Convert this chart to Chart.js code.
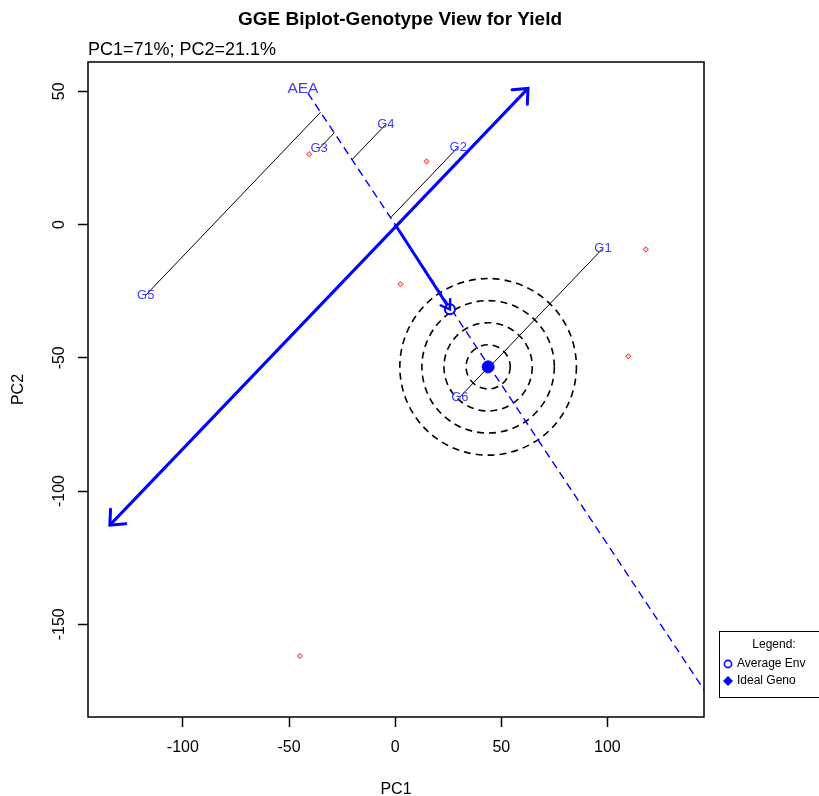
<!DOCTYPE html>
<html>
<head>
<meta charset="utf-8">
<script src="https://cdn.jsdelivr.net/npm/chart.js@4.4.1/dist/chart.umd.min.js"></script>
<style>
  html, body { margin: 0; padding: 0; background: #ffffff; }
  #wrap { width: 819px; height: 796px; position: relative; }
</style>
</head>
<body>
<div id="wrap"><canvas id="biplot" width="819" height="796"></canvas></div>
<script>
// ---- text ----
const titleText = 'GGE Biplot-Genotype View for Yield';
const subtitleText = 'PC1=71%; PC2=21.1%';
const xAxisTitle = 'PC1';
const yAxisTitle = 'PC2';
const aeaLabel = 'AEA';
const legendTitle = 'Legend:';
const legendItems = ['Average Env', 'Ideal Geno'];

// ---- genotype scores ----
const genotypeNames = ['G1', 'G2', 'G3', 'G4', 'G5', 'G6'];
const genotypePC1 = [97.9, 29.7, -35.8, -4.4, -117.5, 30.5];
const genotypePC2 = [-8.9, 29.1, 28.5, 37.6, -26.5, -64.7];

// ---- environment scores ----
const envPC1 = [-40.5, 14.8, 2.5, 118.1, 109.8, -44.9];
const envPC2 = [26.4, 23.7, -22.4, -9.3, -49.4, -161.9];

// ---- reference points and axes ----
const averageEnv = [25.8, -31.8];
const idealGeno = [43.8, -53.4];
const aeaAxis = [[-41.1, 49.3], [146.0, -175.2]];     // average environment axis
const atcAxis = [[-134.4, -112.8], [62.6, 51.1]];     // perpendicular axis through origin
const ringRadii = [10.4, 20.8, 31.2, 41.6];           // concentric rings, PC1 units

// ---- axes ----
const xTicks = [-100, -50, 0, 50, 100];
const yTicks = [50, 0, -50, -100, -150];
const xRange = [-144.7, 145.5];
const yRange = [-184.8, 61.0];

const FONT = "'Liberation Sans', Arial, sans-serif";
const BLUE = '#0000ff';
const LABEL_BLUE = '#3c3cff';

// projection of a genotype onto the AEA line
const aeaDir = (() => {
  const dx = aeaAxis[1][0] - aeaAxis[0][0];
  const dy = aeaAxis[1][1] - aeaAxis[0][1];
  const len = Math.hypot(dx, dy);
  return [dx / len, dy / len];
})();
function projectOnAea(x, y) {
  const t = x * aeaDir[0] + y * aeaDir[1];
  return { x: t * aeaDir[0], y: t * aeaDir[1] };
}

const projectionSets = genotypeNames.map((name, i) => ({
  label: 'proj ' + name,
  data: [{ x: genotypePC1[i], y: genotypePC2[i] }, projectOnAea(genotypePC1[i], genotypePC2[i])],
  showLine: true,
  borderColor: '#000000',
  borderWidth: 1,
  pointRadius: 0,
  order: 5
}));

const datasets = [
  {
    label: 'Ideal Geno',
    data: [{ x: idealGeno[0], y: idealGeno[1] }],
    pointStyle: 'circle',
    pointRadius: 6,
    backgroundColor: BLUE,
    borderColor: BLUE,
    borderWidth: 1,
    order: 0
  },
  {
    label: 'Average Env',
    data: [{ x: averageEnv[0], y: averageEnv[1] }],
    pointStyle: 'circle',
    pointRadius: 5,
    backgroundColor: '#ffffff',
    borderColor: BLUE,
    borderWidth: 2,
    order: 1
  },
  {
    label: 'Environments',
    data: envPC1.map((x, i) => ({ x, y: envPC2[i] })),
    pointStyle: 'rectRot',
    pointRadius: 2.6,
    backgroundColor: '#ffd0d0',
    borderColor: '#ff2020',
    borderWidth: 1,
    order: 2
  },
  {
    label: 'AEA arrow',
    data: [{ x: 0, y: 0 }, { x: averageEnv[0], y: averageEnv[1] }],
    showLine: true,
    borderColor: BLUE,
    borderWidth: 3,
    pointRadius: 0,
    order: 3
  },
  {
    label: 'ATC',
    data: atcAxis.map(p => ({ x: p[0], y: p[1] })),
    showLine: true,
    borderColor: BLUE,
    borderWidth: 3,
    pointRadius: 0,
    order: 4
  },
  ...projectionSets,
  {
    label: 'AEA',
    data: aeaAxis.map(p => ({ x: p[0], y: p[1] })),
    showLine: true,
    borderColor: BLUE,
    borderWidth: 1.4,
    borderDash: [8, 5],
    pointRadius: 0,
    order: 6
  }
];

function arrowHead(ctx, x0, y0, x1, y1, len, ang) {
  const a = Math.atan2(y1 - y0, x1 - x0);
  ctx.beginPath();
  ctx.moveTo(x1 - len * Math.cos(a - ang), y1 - len * Math.sin(a - ang));
  ctx.lineTo(x1, y1);
  ctx.lineTo(x1 - len * Math.cos(a + ang), y1 - len * Math.sin(a + ang));
  ctx.stroke();
}

const biplotDecor = {
  id: 'biplotDecor',
  beforeDatasetsDraw(chart) {
    const { ctx, chartArea, scales: { x, y } } = chart;
    ctx.save();
    ctx.beginPath();
    ctx.rect(chartArea.left, chartArea.top, chartArea.width, chartArea.height);
    ctx.clip();
    const cx = x.getPixelForValue(idealGeno[0]);
    const cy = y.getPixelForValue(idealGeno[1]);
    ctx.strokeStyle = '#000000';
    ctx.lineWidth = 1.6;
    ctx.setLineDash([7, 5]);
    ringRadii.forEach(r => {
      const rp = x.getPixelForValue(idealGeno[0] + r) - cx;
      ctx.beginPath();
      ctx.arc(cx, cy, rp, 0, Math.PI * 2);
      ctx.stroke();
    });
    ctx.restore();
  },
  afterDatasetsDraw(chart) {
    const { ctx, scales: { x, y } } = chart;
    ctx.save();
    ctx.strokeStyle = BLUE;
    ctx.lineCap = 'round';
    // double-headed arrow on the perpendicular axis
    const ax0 = x.getPixelForValue(atcAxis[0][0]), ay0 = y.getPixelForValue(atcAxis[0][1]);
    const ax1 = x.getPixelForValue(atcAxis[1][0]), ay1 = y.getPixelForValue(atcAxis[1][1]);
    ctx.lineWidth = 3;
    arrowHead(ctx, ax0, ay0, ax1, ay1, 16, 0.72);
    arrowHead(ctx, ax1, ay1, ax0, ay0, 16, 0.72);
    // arrow from origin to the average environment
    const ox = x.getPixelForValue(0), oy = y.getPixelForValue(0);
    const ex = x.getPixelForValue(averageEnv[0]), ey = y.getPixelForValue(averageEnv[1]);
    ctx.lineWidth = 2.5;
    arrowHead(ctx, ox, oy, ex, ey, 10, 0.6);

    // genotype labels
    ctx.fillStyle = LABEL_BLUE;
    ctx.font = '13px ' + FONT;
    ctx.textAlign = 'center';
    ctx.textBaseline = 'middle';
    genotypeNames.forEach((n, i) => {
      ctx.fillText(n, x.getPixelForValue(genotypePC1[i]), y.getPixelForValue(genotypePC2[i]));
    });
    // AEA label just above the top end of the axis
    ctx.font = '15.5px ' + FONT;
    ctx.fillText(aeaLabel, x.getPixelForValue(aeaAxis[0][0]) - 5, y.getPixelForValue(aeaAxis[0][1]) - 4);
    ctx.restore();
  },
  afterDraw(chart) {
    const { ctx, chartArea, scales: { x, y } } = chart;
    ctx.save();
    // plot frame
    ctx.strokeStyle = '#000000';
    ctx.lineWidth = 1.5;
    ctx.strokeRect(chartArea.left, chartArea.top, chartArea.width, chartArea.height);

    // title and subtitle
    ctx.fillStyle = '#000000';
    ctx.textBaseline = 'middle';
    ctx.textAlign = 'center';
    ctx.font = 'bold 19px ' + FONT;
    ctx.fillText(titleText, (chartArea.left + chartArea.right) / 2 + 4, 20);
    ctx.textAlign = 'left';
    ctx.font = '18px ' + FONT;
    ctx.fillText(subtitleText, chartArea.left, 50);

    // y tick labels, rotated
    ctx.font = '16px ' + FONT;
    ctx.textAlign = 'center';
    yTicks.forEach(v => {
      ctx.save();
      ctx.translate(60, y.getPixelForValue(v));
      ctx.rotate(-Math.PI / 2);
      ctx.fillText(String(v), 0, 0);
      ctx.restore();
    });

    // axis titles
    ctx.fillText(xAxisTitle, (chartArea.left + chartArea.right) / 2, 790);
    ctx.save();
    ctx.translate(19, (chartArea.top + chartArea.bottom) / 2);
    ctx.rotate(-Math.PI / 2);
    ctx.fillText(yAxisTitle, 0, 0);
    ctx.restore();

    // legend box
    const lx = 719, ly = 631;
    ctx.lineWidth = 1;
    ctx.strokeRect(lx + 0.5, ly + 0.5, 130, 66);
    ctx.font = '12px ' + FONT;
    ctx.textAlign = 'center';
    ctx.fillText(legendTitle, lx + 55, ly + 14);
    ctx.textAlign = 'left';
    ctx.fillText(legendItems[0], lx + 18, ly + 33);
    ctx.fillText(legendItems[1], lx + 18, ly + 50);
    ctx.strokeStyle = BLUE;
    ctx.lineWidth = 1.6;
    ctx.beginPath();
    ctx.arc(lx + 9, ly + 33, 3.6, 0, Math.PI * 2);
    ctx.stroke();
    ctx.fillStyle = BLUE;
    ctx.beginPath();
    ctx.moveTo(lx + 9, ly + 45);
    ctx.lineTo(lx + 14, ly + 50);
    ctx.lineTo(lx + 9, ly + 55);
    ctx.lineTo(lx + 4, ly + 50);
    ctx.closePath();
    ctx.fill();
    ctx.restore();
  }
};

new Chart(document.getElementById('biplot'), {
  type: 'scatter',
  data: { datasets },
  options: {
    responsive: false,
    animation: false,
    devicePixelRatio: 1,
    layout: { padding: { top: 62, right: 115, left: 0, bottom: 0 } },
    plugins: { legend: { display: false }, tooltip: { enabled: false }, title: { display: false } },
    scales: {
      x: {
        type: 'linear',
        min: xRange[0],
        max: xRange[1],
        afterFit(s) { s.height = 79; },
        afterBuildTicks(s) { s.ticks = xTicks.map(v => ({ value: v })); },
        border: { display: false },
        grid: { drawOnChartArea: false, drawTicks: true, tickLength: 10, tickColor: '#000000', tickWidth: 1.5 },
        ticks: {
          autoSkip: false, maxRotation: 0, minRotation: 0, padding: 11,
          color: '#000000', font: { family: FONT, size: 16 },
          callback: v => String(v)
        }
      },
      y: {
        type: 'linear',
        min: yRange[0],
        max: yRange[1],
        afterFit(s) { s.width = 88; },
        afterBuildTicks(s) { s.ticks = yTicks.map(v => ({ value: v })); },
        border: { display: false },
        grid: { drawOnChartArea: false, drawTicks: true, tickLength: 10, tickColor: '#000000', tickWidth: 1.5 },
        ticks: { display: false }
      }
    }
  },
  plugins: [biplotDecor]
});
</script>
</body>
</html>
